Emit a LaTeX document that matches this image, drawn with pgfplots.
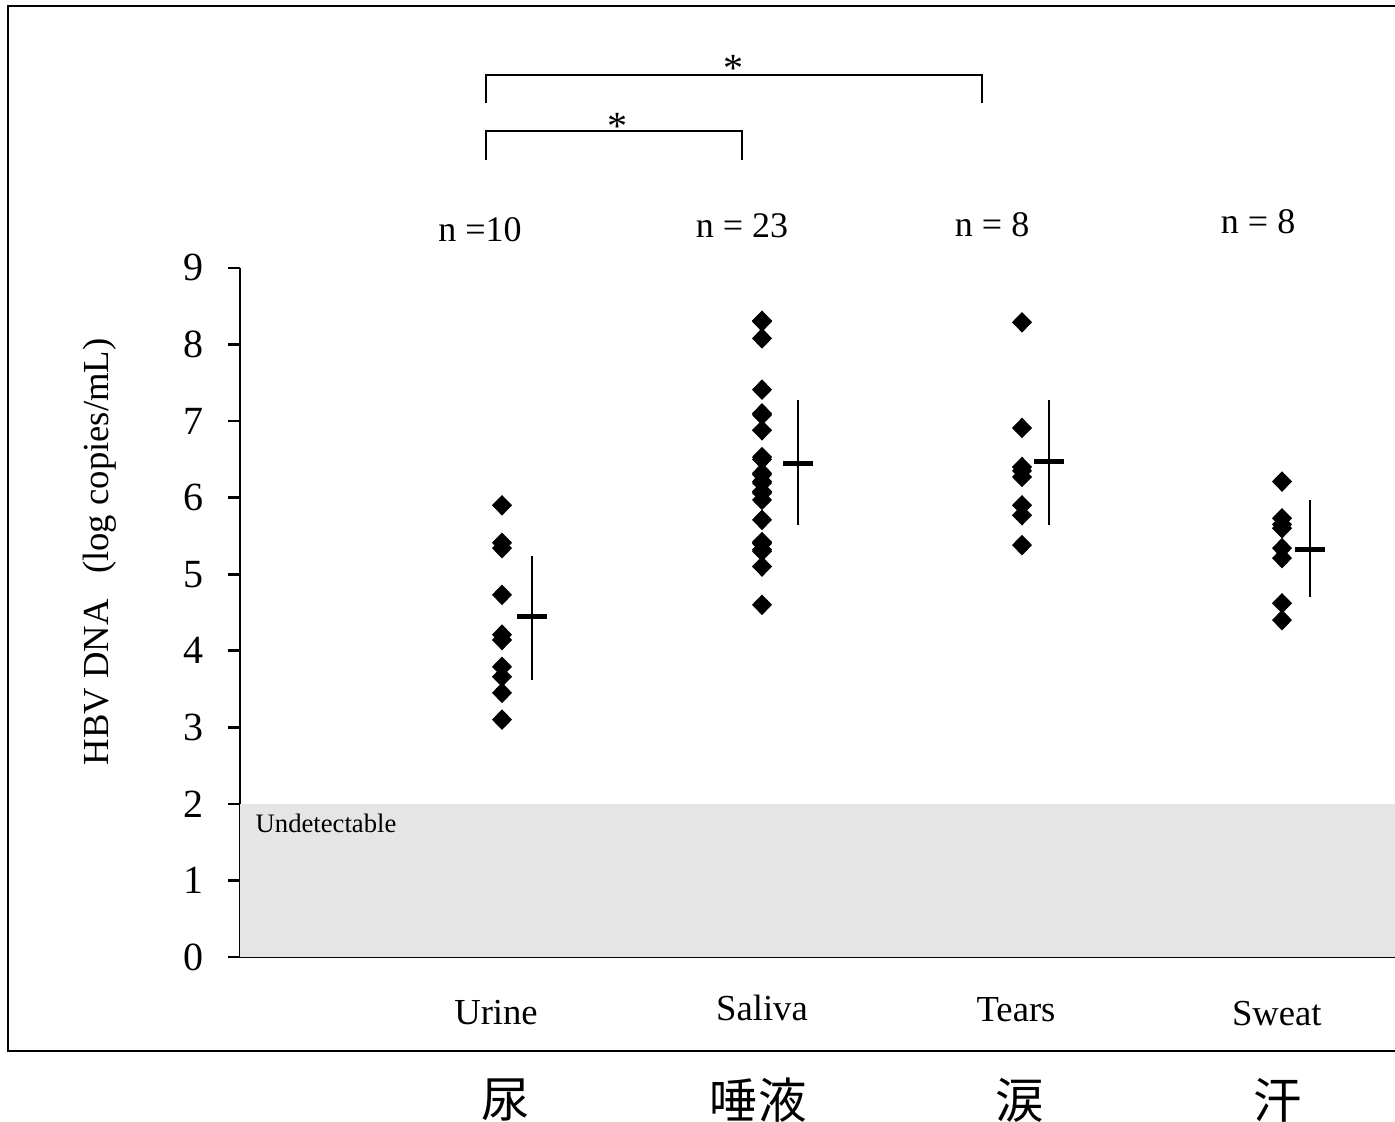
\documentclass[border=0pt]{standalone}
\usepackage{pgfplots}
\pgfplotsset{compat=1.18}
\usepackage{pgfplotstable}
\usepackage{fontspec}
\setmainfont{Liberation Serif}
\newfontfamily\cjk{Noto Sans CJK JP}

% individual values, log copies/mL
\pgfplotstableread{
x y
1 5.90
1 5.41
1 5.34
1 4.73
1 4.21
1 4.14
1 3.79
1 3.66
1 3.45
1 3.10
}\urine
\pgfplotstableread{
x y
2 8.31
2 8.30
2 8.08
2 7.41
2 7.10
2 7.08
2 6.88
2 6.53
2 6.50
2 6.32
2 6.30
2 6.21
2 6.19
2 6.08
2 6.06
2 5.97
2 5.71
2 5.42
2 5.40
2 5.32
2 5.30
2 5.10
2 4.60
}\saliva
\pgfplotstableread{
x y
3 8.29
3 6.91
3 6.40
3 6.35
3 6.27
3 5.90
3 5.77
3 5.38
}\tears
\pgfplotstableread{
x y
4 6.21
4 5.73
4 5.65
4 5.60
4 5.34
4 5.21
4 4.62
4 4.40
}\sweat
% mean and spread
\pgfplotstableread{
x y ep em
1.115 4.45 0.79 0.83
2.138 6.45 0.83 0.81
3.104 6.47 0.81 0.83
4.108 5.32 0.65 0.62
}\means

\begin{document}
\begin{tikzpicture}
\begin{axis}[
  scale only axis, width=346.9pt, height=206.7pt,
  xmin=-0.0077, xmax=4.44, ymin=0, ymax=9,
  axis x line*=bottom, axis y line*=left,
  axis line style={-, line width=0.8pt},
  xtick=\empty, ytick={0,1,...,9},
  tick align=outside, major tick length=3.6pt,
  tick style={black, line width=0.8pt},
  /pgf/number format/assume math mode=true,
  yticklabel style={font=\fontsize{12}{14}\selectfont, xshift=-3.8pt},
  clip=false,
]
% undetectable band
\addplot[draw=none, fill=black!10] coordinates {(-0.0077,2) (4.44,2)} \closedcycle;
\node[anchor=west, font=\fontsize{8}{10}\selectfont, inner sep=0pt] at (axis cs:0.05,1.74) {Undetectable};

\addplot[only marks, mark=diamond*, mark size=2.8pt, mark options={xscale=1.3, fill=black, draw=black}] table {\urine};
\addplot[only marks, mark=diamond*, mark size=2.8pt, mark options={xscale=1.3, fill=black, draw=black}] table {\saliva};
\addplot[only marks, mark=diamond*, mark size=2.8pt, mark options={xscale=1.3, fill=black, draw=black}] table {\tears};
\addplot[only marks, mark=diamond*, mark size=2.8pt, mark options={xscale=1.3, fill=black, draw=black}] table {\sweat};

\addplot[only marks, mark=-, mark size=4.5pt, mark options={line width=1.6pt, black},
  error bars/.cd, y dir=both, y explicit, error mark=none,
  error bar style={line width=0.6pt, black}]
  table[x=x, y=y, y error plus=ep, y error minus=em] {\means};

% significance brackets
\draw[line width=0.6pt] (axis cs:0.938,11.155) -- (axis cs:0.938,11.52) -- (axis cs:2.846,11.52) -- (axis cs:2.846,11.155);
\node[font=\fontsize{12}{14}\selectfont] at (axis cs:1.892,11.6) {*};
\draw[line width=0.6pt] (axis cs:0.938,10.41) -- (axis cs:0.938,10.79) -- (axis cs:1.923,10.79) -- (axis cs:1.923,10.41);
\node[font=\fontsize{12}{14}\selectfont] at (axis cs:1.446,10.85) {*};

% group sizes
\begin{scope}[every node/.style={font=\fontsize{10.8}{13}\selectfont}]
\node at (axis cs:0.915,9.50) {n =10};
\node at (axis cs:1.923,9.55) {n = 23};
\node at (axis cs:2.885,9.57) {n = 8};
\node at (axis cs:3.908,9.60) {n = 8};
\end{scope}

% categories
\begin{scope}[every node/.style={font=\fontsize{11}{13}\selectfont}]
\node at (axis cs:0.977,-0.72) {Urine};
\node at (axis cs:2.0,-0.67) {Saliva};
\node at (axis cs:2.977,-0.69) {Tears};
\node at (axis cs:3.98,-0.74) {Sweat};
\end{scope}
\begin{scope}[every node/.style={font=\cjk\fontsize{14.5}{16}\selectfont}]
\node at (axis cs:1.015,-1.87) {尿};
\node at (axis cs:1.985,-1.87) {唾液};
\node at (axis cs:2.992,-1.87) {涙};
\node at (axis cs:3.985,-1.87) {汗};
\end{scope}

\node[rotate=90, font=\fontsize{11}{13}\selectfont] at (axis cs:-0.546,5.29) {HBV DNA\hspace{0.7em}(log copies/mL)};

% outer frame
\draw[line width=0.8pt] (axis cs:4.5,12.42) -- (axis cs:-0.9,12.42) -- (axis cs:-0.9,-1.228) -- (axis cs:4.5,-1.228);

\coordinate (bl) at (axis cs:-0.9308,-2.155);
\coordinate (tr) at (axis cs:4.4346,12.5);
\end{axis}
\pgfresetboundingbox
\path[use as bounding box] (bl) rectangle (tr);
\end{tikzpicture}
\end{document}
